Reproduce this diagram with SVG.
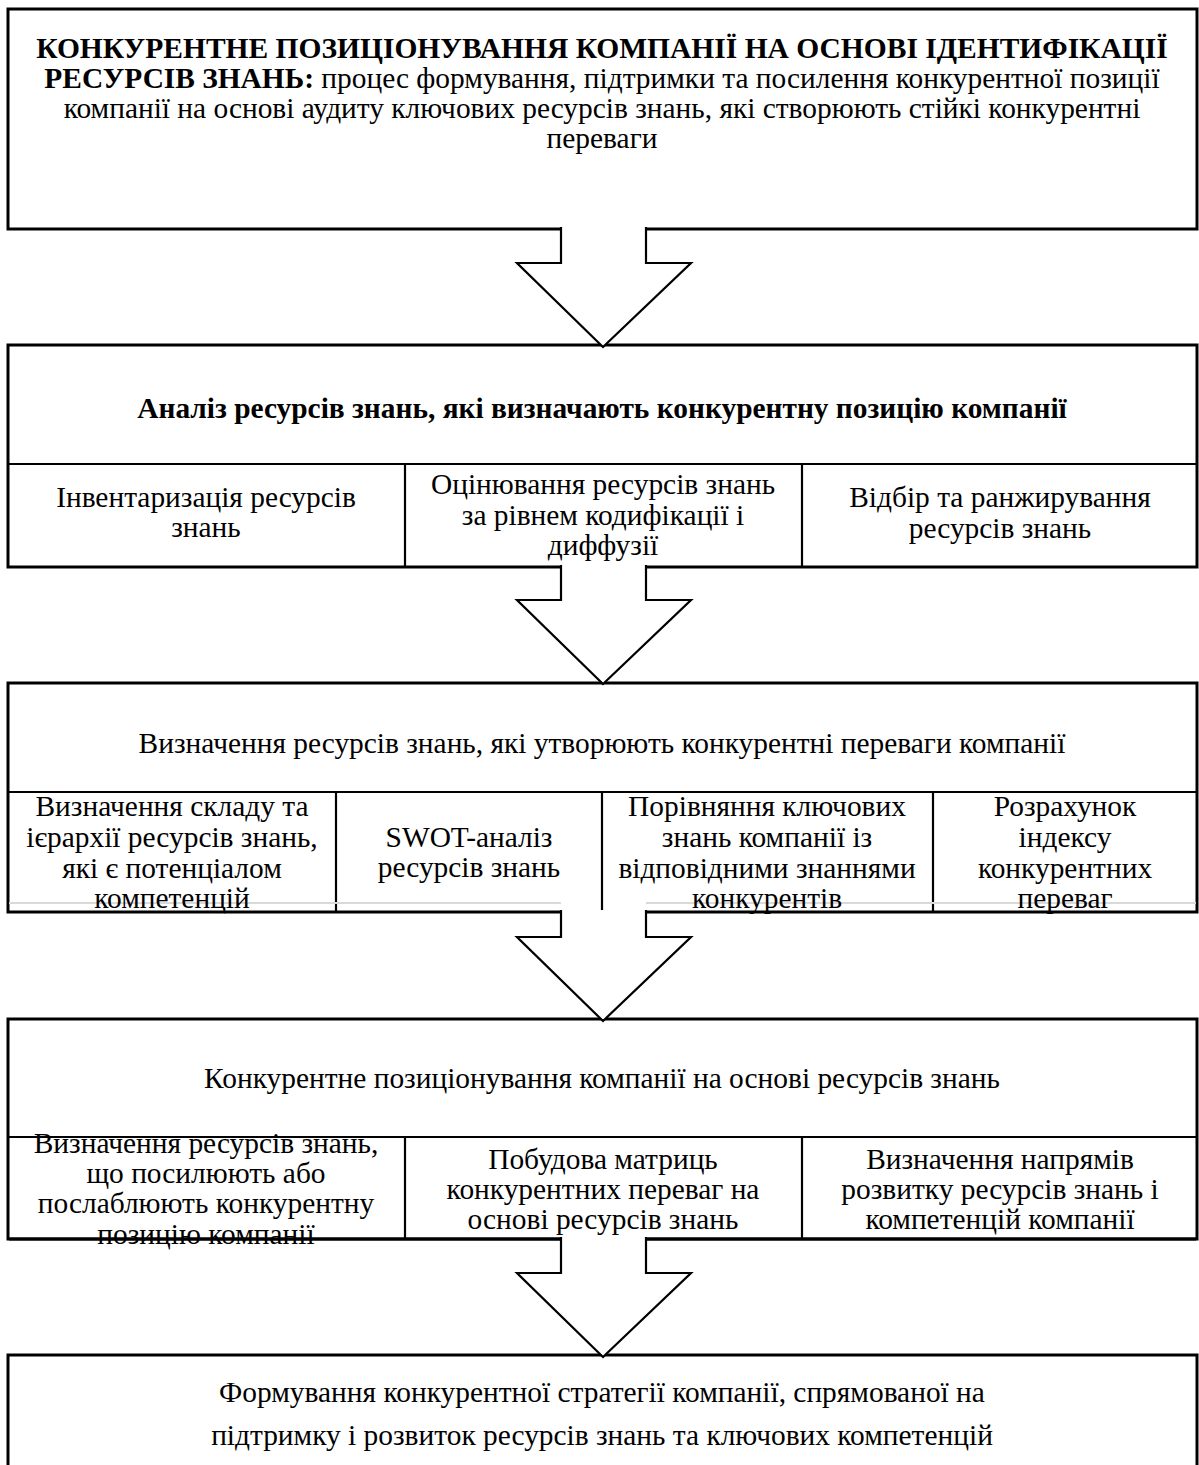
<svg xmlns="http://www.w3.org/2000/svg" width="1199" height="1465" viewBox="0 0 1199 1465">
<style>
.box{fill:#fff;stroke:#000;stroke-width:3}
.div{stroke:#000;stroke-width:2.2;fill:none}
.arr{fill:#fff;stroke:#000;stroke-width:2.2;stroke-linejoin:miter}
.t text{font-family:'Liberation Serif','Times New Roman','DejaVu Serif',serif;font-size:29.4px;fill:#000;text-anchor:middle}
.t .b{font-weight:bold}
.faint{stroke:#d9d9d9;stroke-width:2}
</style>
<rect width="1199" height="1465" fill="#fff"/>

<g id="n1" class="t">
<rect class="box" x="8" y="9" width="1189" height="220"/>
<text class="b" x="602" y="58" style="font-size:29.5px">КОНКУРЕНТНЕ ПОЗИЦІОНУВАННЯ КОМПАНІЇ НА ОСНОВІ ІДЕНТИФІКАЦІЇ</text>
<text x="602" y="88"><tspan class="b">РЕСУРСІВ ЗНАНЬ:</tspan> процес формування, підтримки та посилення конкурентної позиції</text>
<text x="602" y="118">компанії на основі аудиту ключових ресурсів знань, які створюють стійкі конкурентні</text>
<text x="602" y="148">переваги</text>
</g>

<g id="n2" class="t">
<rect class="box" x="8" y="345" width="1189" height="222"/>
<line class="div" x1="8" y1="464" x2="1197" y2="464"/>
<line class="div" x1="405" y1="464" x2="405" y2="567"/>
<line class="div" x1="802" y1="464" x2="802" y2="567"/>
<text class="b" x="602" y="418">Аналіз ресурсів знань, які визначають конкурентну позицію компанії</text>
<text x="206" y="507">Інвентаризація ресурсів</text>
<text x="206" y="537">знань</text>
<text x="603" y="494">Оцінювання ресурсів знань</text>
<text x="603" y="525">за рівнем кодифікації і</text>
<text x="603" y="555">диффузії</text>
<text x="1000" y="507">Відбір та ранжирування</text>
<text x="1000" y="538">ресурсів знань</text>
</g>

<g id="n3" class="t">
<rect class="box" x="8" y="683" width="1189" height="229"/>
<line class="div" x1="8" y1="792" x2="1197" y2="792"/>
<line class="div" x1="336" y1="792" x2="336" y2="912"/>
<line class="div" x1="602" y1="792" x2="602" y2="912"/>
<line class="div" x1="933" y1="792" x2="933" y2="912"/>
<line class="faint" x1="9" y1="903" x2="561" y2="903"/>
<line class="faint" x1="646" y1="903" x2="1196" y2="903"/>
<text x="602" y="753">Визначення ресурсів знань, які утворюють конкурентні переваги компанії</text>
<text x="172" y="816">Визначення складу та</text>
<text x="172" y="847">ієрархії ресурсів знань,</text>
<text x="172" y="878">які є потенціалом</text>
<text x="172" y="908">компетенцій</text>
<text x="469" y="847">SWOT-аналіз</text>
<text x="469" y="877">ресурсів знань</text>
<text x="767" y="816">Порівняння ключових</text>
<text x="767" y="847">знань компанії із</text>
<text x="767" y="878">відповідними знаннями</text>
<text x="767" y="908">конкурентів</text>
<text x="1065" y="816">Розрахунок</text>
<text x="1065" y="847">індексу</text>
<text x="1065" y="878">конкурентних</text>
<text x="1065" y="908">переваг</text>
</g>

<g id="n4" class="t">
<rect class="box" x="8" y="1019" width="1189" height="220"/>
<line class="div" x1="8" y1="1137" x2="1197" y2="1137"/>
<line class="div" x1="405" y1="1137" x2="405" y2="1239"/>
<line class="div" x1="802" y1="1137" x2="802" y2="1239"/>
<text x="602" y="1088">Конкурентне позиціонування компанії на основі ресурсів знань</text>
<text x="206" y="1153">Визначення ресурсів знань,</text>
<text x="206" y="1183">що посилюють або</text>
<text x="206" y="1213">послаблюють конкурентну</text>
<text x="206" y="1244">позицію компанії</text>
<text x="603" y="1169">Побудова матриць</text>
<text x="603" y="1199">конкурентних переваг на</text>
<text x="603" y="1229">основі ресурсів знань</text>
<text x="1000" y="1169">Визначення напрямів</text>
<text x="1000" y="1199">розвитку ресурсів знань і</text>
<text x="1000" y="1229">компетенцій компанії</text>
<line x1="9" y1="1239" x2="1196" y2="1239" stroke="#000" stroke-width="3"/>
</g>

<g id="n5" class="t">
<rect class="box" x="8" y="1355" width="1189" height="130"/>
<text x="602" y="1402">Формування конкурентної стратегії компанії, спрямованої на</text>
<text x="602" y="1445">підтримку і розвиток ресурсів знань та ключових компетенцій</text>
</g>

<g id="connectors">
<path class="arr" d="M561,227 V263 H517 L603,347 L691,263 H646 V227"/>
<path class="arr" d="M561,565 V600 H517 L603,684 L691,600 H646 V565"/>
<path class="arr" d="M561,910 V937 H517 L603,1021 L691,937 H646 V910"/>
<path class="arr" d="M561,1237 V1273 H517 L603,1357 L691,1273 H646 V1237"/>
</g>
</svg>
